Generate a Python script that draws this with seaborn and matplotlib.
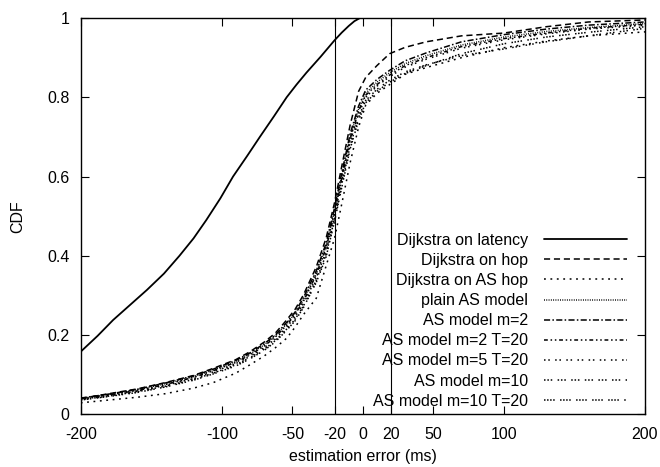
import matplotlib
matplotlib.use("Agg")
import matplotlib.pyplot as plt
import seaborn as sns
import pandas as pd

# ---- data ----
series_names = [
    "Dijkstra on latency", "Dijkstra on hop", "Dijkstra on AS hop",
    "plain AS model", "AS model m=2", "AS model m=2 T=20",
    "AS model m=5 T=20", "AS model m=10", "AS model m=10 T=20",
]

lat_x = [-200, -188, -177, -165, -153, -141, -130, -120, -111, -101, -92, -82, -73, -63, -54,
         -47, -40, -35, -30, -25, -20, -15, -10, -6, -2, 200]
lat_cdf = [0.158, 0.198, 0.238, 0.276, 0.314, 0.355, 0.400, 0.444, 0.490, 0.545, 0.600, 0.652,
           0.700, 0.752, 0.800, 0.832, 0.862, 0.882, 0.902, 0.923, 0.944, 0.963, 0.980, 0.992,
           1.0, 1.0]

grid_x = [-200, -180, -160, -140, -120, -106, -90, -80, -70, -62, -54, -48, -42, -33,
          -26, -20, -15, -9, -3, 2, 10, 19, 30, 45, 70, 100, 130, 160, 200]

hop_cdf = [0.040, 0.052, 0.064, 0.080, 0.098, 0.116, 0.138, 0.158, 0.182, 0.205, 0.238, 0.265,
           0.302, 0.372, 0.445, 0.535, 0.625, 0.730, 0.815, 0.850, 0.880, 0.910, 0.926, 0.940,
           0.955, 0.962, 0.978, 0.990, 0.995]
ashop_cdf = [0.029, 0.036, 0.043, 0.052, 0.066, 0.080, 0.104, 0.125, 0.147, 0.168, 0.192, 0.220,
             0.252, 0.293, 0.375, 0.445, 0.530, 0.635, 0.725, 0.780, 0.810, 0.832, 0.858, 0.875,
             0.900, 0.925, 0.942, 0.955, 0.965]
plain_cdf = [0.040, 0.050, 0.062, 0.077, 0.095, 0.112, 0.133, 0.152, 0.175, 0.198, 0.228, 0.255,
             0.290, 0.356, 0.425, 0.515, 0.600, 0.700, 0.770, 0.810, 0.838, 0.862, 0.885, 0.905,
             0.932, 0.952, 0.966, 0.976, 0.986]
m2_cdf = [0.041, 0.051, 0.063, 0.079, 0.097, 0.114, 0.136, 0.155, 0.178, 0.200, 0.232, 0.258,
          0.295, 0.362, 0.432, 0.522, 0.608, 0.708, 0.778, 0.818, 0.845, 0.868, 0.892, 0.912,
          0.940, 0.958, 0.972, 0.982, 0.990]
m2t20_cdf = [0.039, 0.049, 0.060, 0.075, 0.093, 0.110, 0.131, 0.150, 0.172, 0.195, 0.225, 0.252,
             0.286, 0.352, 0.420, 0.510, 0.595, 0.695, 0.765, 0.805, 0.832, 0.856, 0.880, 0.900,
             0.928, 0.948, 0.962, 0.974, 0.984]
m5t20_cdf = [0.038, 0.047, 0.058, 0.073, 0.090, 0.107, 0.128, 0.146, 0.168, 0.190, 0.220, 0.246,
             0.280, 0.345, 0.412, 0.502, 0.588, 0.688, 0.758, 0.800, 0.828, 0.852, 0.876, 0.896,
             0.924, 0.945, 0.960, 0.972, 0.982]
m10_cdf = [0.037, 0.046, 0.057, 0.071, 0.088, 0.104, 0.125, 0.143, 0.164, 0.186, 0.215, 0.240,
           0.274, 0.338, 0.404, 0.494, 0.580, 0.678, 0.750, 0.792, 0.820, 0.843, 0.864, 0.882,
           0.905, 0.922, 0.940, 0.955, 0.974]
m10t20_cdf = [0.036, 0.045, 0.055, 0.069, 0.086, 0.102, 0.122, 0.140, 0.161, 0.183, 0.212, 0.236,
              0.270, 0.333, 0.398, 0.488, 0.572, 0.670, 0.742, 0.786, 0.815, 0.838, 0.860, 0.880,
              0.910, 0.935, 0.952, 0.964, 0.978]

x_ticks = [-200, -100, -50, -20, 0, 20, 50, 100, 200]
y_ticks = [0, 0.2, 0.4, 0.6, 0.8, 1]
y_tick_labels = ["0", "0.2", "0.4", "0.6", "0.8", "1"]
ref_lines = [-20, 20]

# ---- styles ----
dash_styles = [
    None,
    (4, 2.5),
    (1.2, 3),
    (0.6, 0.9),
    (4, 1.5, 1, 1.5),
    (2.5, 1.8, 1, 1.8, 1, 1.8),
    (1, 1.8, 1, 3.5),
    (1, 1.2, 1, 1.2, 1, 3.5),
    (1, 1, 1, 1, 1, 1, 1, 3.5),
]

FS = 11.5
sns.set_style("ticks")
plt.rcParams["font.family"] = ["Liberation Sans", "DejaVu Sans"]
plt.rcParams["font.size"] = FS
for key in ["text.color", "axes.labelcolor", "xtick.color", "ytick.color",
            "xtick.labelcolor", "ytick.labelcolor", "axes.edgecolor"]:
    plt.rcParams[key] = "black"

frames = [pd.DataFrame({"x": lat_x, "cdf": lat_cdf, "series": series_names[0]})]
for name, vals in zip(series_names[1:], [hop_cdf, ashop_cdf, plain_cdf, m2_cdf, m2t20_cdf,
                                         m5t20_cdf, m10_cdf, m10t20_cdf]):
    frames.append(pd.DataFrame({"x": grid_x, "cdf": vals, "series": name}))
df = pd.concat(frames, ignore_index=True)

fig = plt.figure(figsize=(6.6, 4.67), dpi=100)
ax = fig.add_axes([80.7 / 660, 1 - 414.3 / 467, (645 - 80.7) / 660, (414.3 - 18) / 467])

handles = []
for name, ds in zip(series_names, dash_styles):
    sub = df[df["series"] == name]
    sns.lineplot(data=sub, x="x", y="cdf", ax=ax, color="black",
                 lw=1.3 if ds is None else 1.1, estimator=None, sort=False,
                 label=name, legend=False)
    line = ax.lines[-1]
    if ds is not None:
        line.set_dashes(ds)
    handles.append(line)

for v in ref_lines:
    ax.axvline(v, color="black", lw=0.8)

ax.set_xlim(-200, 200)
ax.set_ylim(0, 1)
ax.set_xticks(x_ticks)
ax.set_xticklabels([str(t) for t in x_ticks])
ax.set_yticks(y_ticks)
ax.set_yticklabels(y_tick_labels)
ax.tick_params(direction="in", length=6, width=0.8, top=True, right=True,
               labelsize=FS, colors="black")
ax.tick_params(axis="x", pad=9)
ax.tick_params(axis="y", pad=8)
for sp in ax.spines.values():
    sp.set_linewidth(1.0)
    sp.set_color("black")
    sp.set_visible(True)
ax.set_xlabel("estimation error (ms)", fontsize=FS, labelpad=5, color="black")
ax.set_ylabel("CDF", fontsize=FS, labelpad=16, color="black")

leg = ax.legend(handles=handles, labels=series_names, loc="lower right",
                bbox_to_anchor=(0.988, -0.014), frameon=False, markerfirst=False,
                alignment="right", handlelength=5.2, handletextpad=1.0,
                labelspacing=0.32, borderpad=0.2, fontsize=FS, labelcolor="black")

fig.savefig("out.png", dpi=100)
